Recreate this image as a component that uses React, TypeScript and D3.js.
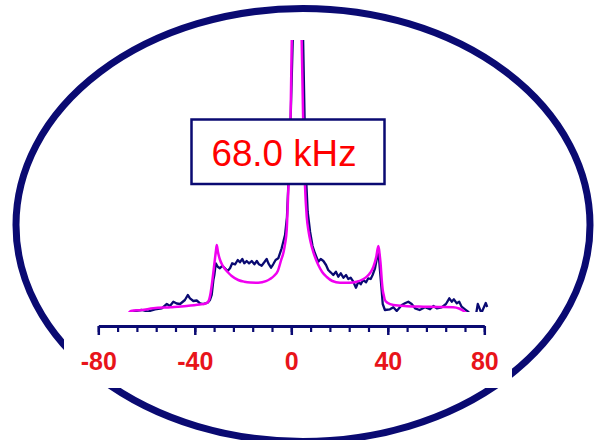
import React, { useEffect, useRef } from "react";
import * as d3 from "d3";

// frequency axis (kHz)
const majorTicks = [-80, -40, 0, 40, 80];
const minorTicks = d3.range(-80, 81, 8);

// simulated (fit) spectrum, magenta
const fitKhz = [
  -68, -66.5, -62, -57.2, -50, -43.4, -38, -35.5, -34.4, -33.6, -32.8, -32, -31.3, -30.9,
  -30.4, -29.6, -28.6, -27.5, -26, -24.7, -22, -19.5, -17, -13.7, -10.5, -8.8, -7.2, -5.6,
  -4.2, -3.2, -2.6, -1.9, -1.2, -0.3, 0.2, 2.2, 4.3, 4.9, 5.7, 6.4, 7.2, 8.0, 9.1, 10.3,
  11.2, 12.8, 14.7, 17, 20.2, 24, 27.1, 29.5, 31.3, 32.8, 34, 35.2, 36.1, 36.6, 37, 37.5,
  37.9, 38.4, 38.8, 40, 42.3, 48, 54.7, 61, 67.1, 69.5, 71.3, 73,
];
const fitIntensity = [
  -3, 1, 2, 3.7, 4.8, 6, 7.5, 8.5, 10.5, 17, 30, 46, 60, 67,
  60, 52.5, 47, 43, 39, 36, 32, 30.3, 29.5, 29.3, 30.8, 33, 36, 41,
  52, 60, 68, 82, 125, 195, 272, 420, 272, 195, 125, 95, 80, 70, 60, 52,
  47, 40, 35, 31, 29.3, 29.3, 30.3, 32.5, 35.3, 39.5, 45, 55, 66, 58, 48.7, 32,
  22, 16, 12, 9, 7, 5.8, 5.3, 5, 4.7, 3.5, 1.3, -2,
];

// experimental spectrum, navy
const expKhz = [
  -67.5, -66, -64.8, -62, -59.4, -56.5, -53.7, -51.6, -50.3, -48.9, -47.5, -46.1, -44.1,
  -42.9, -42, -40.6, -39.2, -37.8, -36.5, -34.7, -33.7, -33, -32.3, -31.9, -31.3, -30.5,
  -29.6, -28.6, -27.5, -26.4, -25.4, -24.5, -23.3, -22.2, -21.3, -20.3, -19.5, -18.5,
  -17.5, -16.4, -15.3, -14.3, -13.4, -12.3, -11.2, -10.2, -9.5, -8.4, -7.5, -6.5, -5.4,
  -4, -2.6, -1.8, -1.0, -0.2, 0.6, 2.7, 4.9, 5.5, 6.1, 6.8, 7.8, 8.8, 9.8, 11.2, 12.2,
  13.3, 14.4, 15.3, 16.3, 17.4, 18.5, 19.5, 20.5, 21.6, 22.7, 23.6, 24.6, 25.7, 26.8,
  27.8, 28.8, 29.8, 31, 31.9, 32.9, 33.7, 34.7, 35.6, 36.2, 36.8, 37.5, 37.9, 38.8, 40.9,
  42.3, 43.7, 45.8, 47.1, 48.5, 49.9, 51.3, 53.2, 55.4, 57.5, 58.9, 60.3, 62.3, 64.1,
  65.5, 66.5, 67.4, 68.6, 69.6, 70.6, 72, 73.4, 75, 76.6, 77.3, 78.8, 80.6, 81.2,
];
const expIntensity = [
  -3, 0, 1, 2, 0.5, 2.7, 3.7, 8, 6, 10.3, 8.5, 8, 12,
  17, 13.7, 11, 11.5, 8.7, 8, 9.3, 12, 17, 32, 37, 48.7, 45.3,
  43.7, 46.3, 43.7, 41, 43.7, 48.7, 47.7, 52, 49.7, 53, 48.7, 51,
  48.7, 51, 47.7, 51, 47.7, 46.3, 49.7, 53, 48.7, 44.3, 47.7, 52, 53.7,
  63.7, 77, 95, 140, 200, 272, 460, 272, 195, 135, 100, 80, 66, 58.7, 50.3, 53,
  51, 47, 42, 39.7, 37, 40.3, 35.3, 38.7, 34.3, 37, 33, 34.3, 30.3, 24.3,
  30.3, 27.7, 32, 29.7, 33.7, 33, 37, 43.7, 55.3, 58.7, 40.3, 20.3, 8, 2, 2.7,
  4.7, 1, 7, 8.7, 10.3, 8, 3.7, 2, 4.7, 2.7, 6, 3.7, 4.7, 8,
  13.7, 10.3, 12.7, 8.7, 10.3, 5.3, 2.7, 0, -4, -2, 8, -1, 9, 5,
];

const label = "68.0 kHz";

const NAVY = "#0a0a72";
const MAGENTA = "#f000f0";
const RED = "#ff0000";
const AXIS_RED = "#e8141a";

const App = () => {
  const svgRef = useRef<SVGSVGElement>(null);
  const width = 595;
  const height = 440;

  useEffect(() => {
    const svg = d3.select(svgRef.current);
    svg.selectAll("*").remove();

    const x = d3.scaleLinear().domain([-80, 80]).range([98.3, 484.3]);
    const y = d3.scaleLinear().domain([0, 100]).range([312, 212]);

    svg.append("rect").attr("width", width).attr("height", height).attr("fill", "white");

    // frame ellipse
    svg.append("ellipse")
      .attr("cx", 303)
      .attr("cy", 225)
      .attr("rx", 287)
      .attr("ry", 216.5)
      .attr("fill", "none")
      .attr("stroke", NAVY)
      .attr("stroke-width", 7);

    // spectra, clipped to the plot window
    svg.append("clipPath")
      .attr("id", "plot-clip")
      .append("rect")
      .attr("x", 0)
      .attr("y", 40)
      .attr("width", width)
      .attr("height", 272);

    const g = svg.append("g").attr("clip-path", "url(#plot-clip)");

    const line = d3.line<[number, number]>()
      .x((d) => x(d[0]))
      .y((d) => y(d[1]));

    const expData = expKhz.map((k, i) => [k, expIntensity[i]] as [number, number]);
    const fitData = fitKhz.map((k, i) => [k, fitIntensity[i]] as [number, number]);

    g.append("path")
      .attr("d", line.curve(d3.curveLinear)(expData))
      .attr("fill", "none")
      .attr("stroke", NAVY)
      .attr("stroke-width", 2.3)
      .attr("stroke-linejoin", "round");

    g.append("path")
      .attr("d", line.curve(d3.curveMonotoneX)(fitData))
      .attr("fill", "none")
      .attr("stroke", MAGENTA)
      .attr("stroke-width", 2.5)
      .attr("stroke-linejoin", "round");

    // white patch behind the axis (covers the ellipse)
    svg.append("rect").attr("x", 64).attr("y", 338).attr("width", 448).attr("height", 50).attr("fill", "white");
    svg.append("rect").attr("x", 85).attr("y", 312).attr("width", 412).attr("height", 76).attr("fill", "white");

    // axis
    const axisY = 326;
    const minorAxis = svg.append("g")
      .attr("transform", `translate(0,${axisY})`)
      .call(d3.axisBottom(x).tickValues(minorTicks).tickSize(6).tickFormat(() => ""));
    minorAxis.select(".domain").remove();
    minorAxis.selectAll(".tick line").attr("stroke", NAVY).attr("stroke-width", 2.2);

    const majorAxis = svg.append("g")
      .attr("transform", `translate(0,${axisY})`)
      .call(
        d3.axisBottom(x)
          .tickValues(majorTicks)
          .tickSize(9)
          .tickSizeOuter(0)
          .tickPadding(17)
          .tickFormat((d) => String(d))
      );
    majorAxis.select(".domain").attr("stroke", NAVY).attr("stroke-width", 3);
    majorAxis.selectAll(".tick line").attr("stroke", NAVY).attr("stroke-width", 2.5);
    majorAxis.selectAll(".tick text")
      .attr("fill", AXIS_RED)
      .style("font-family", "'Liberation Sans', Arial, sans-serif")
      .style("font-weight", "bold")
      .style("font-size", "25px");

    // splitting label
    svg.append("rect")
      .attr("x", 191.5)
      .attr("y", 119.5)
      .attr("width", 193)
      .attr("height", 64.5)
      .attr("fill", "white")
      .attr("stroke", NAVY)
      .attr("stroke-width", 2.5);

    svg.append("text")
      .attr("x", 211.5)
      .attr("y", 166)
      .attr("textLength", 145)
      .attr("lengthAdjust", "spacingAndGlyphs")
      .attr("fill", RED)
      .style("font-family", "'Liberation Sans', Arial, sans-serif")
      .style("font-size", "37px")
      .text(label);
  }, []);

  return (
    <svg
      ref={svgRef}
      width={width}
      height={height}
      style={{ position: "absolute", left: 0, top: 0, display: "block" }}
    ></svg>
  );
};

export default App;
